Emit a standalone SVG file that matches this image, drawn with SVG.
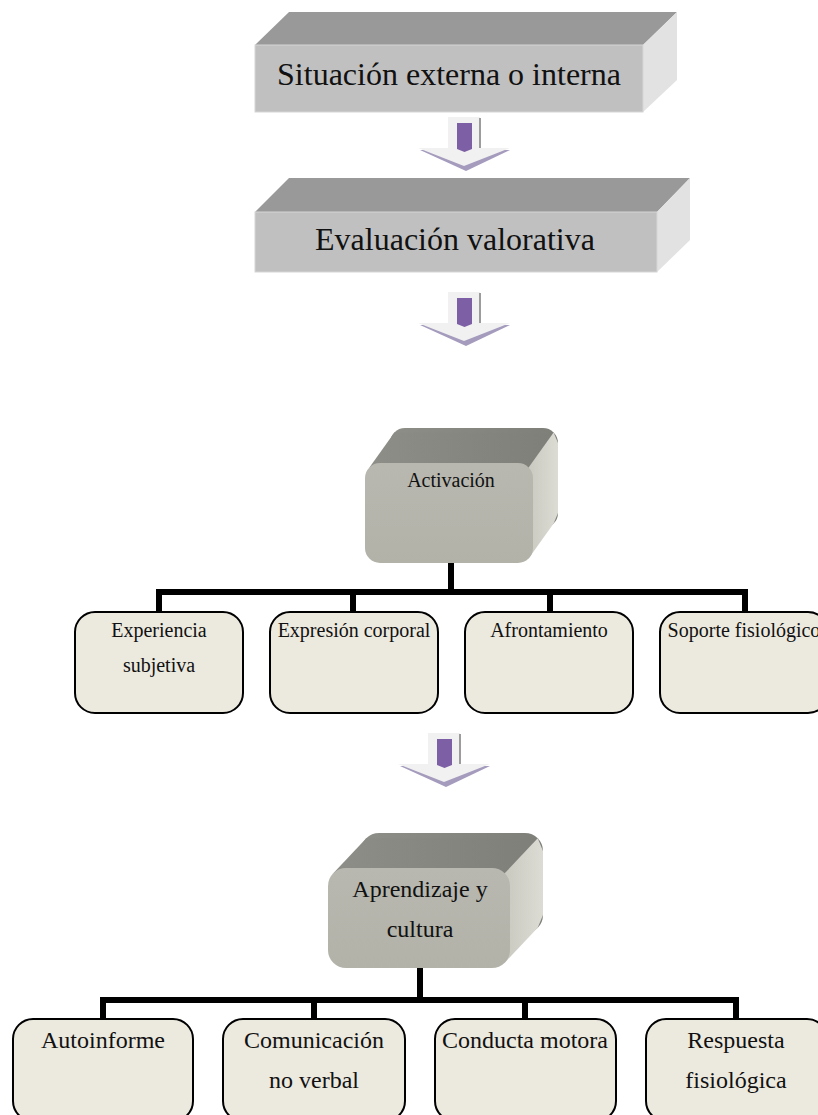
<svg xmlns="http://www.w3.org/2000/svg" width="818" height="1115" viewBox="0 0 818 1115">
  <defs>
    <style>
      text { font-family: "Liberation Serif", "Times New Roman", serif; fill: #111; text-anchor: middle; }
      .t32 { font-size: 32px; }
      .t24 { font-size: 24px; }
      .t20 { font-size: 20px; }
      .slab-top { fill: #999999; }
      .slab-front { fill: #c0c0c0; stroke: #d6d6d6; stroke-width: 1; }
      .slab-side { fill: #e2e2e2; }
      .card { fill: #ece9df; stroke: #000; stroke-width: 2; }
      .wire { fill: none; stroke: #000; stroke-width: 6; }
      .cube-top { fill: url(#cubeTop); }
      .cube-side { fill: url(#cubeSide); }
      .cube-front { fill: url(#cubeFront); }
    </style>
    <linearGradient id="cubeTop" x1="0" y1="0" x2="1" y2="0">
      <stop offset="0" stop-color="#8e8e88"/>
      <stop offset="1" stop-color="#7f7f79"/>
    </linearGradient>
    <linearGradient id="cubeSide" x1="0" y1="0" x2="1" y2="0">
      <stop offset="0" stop-color="#c4c4bb"/>
      <stop offset="1" stop-color="#dcdcd4"/>
    </linearGradient>
    <linearGradient id="cubeFront" x1="0" y1="0" x2="0" y2="1">
      <stop offset="0" stop-color="#b8b8b0"/>
      <stop offset="1" stop-color="#b2b2a9"/>
    </linearGradient>
    <!-- block arrow pointing down, origin at top centre of the shaft -->
    <g id="downArrow">
      <polygon points="-44,33 46,33 2,54" fill="#a59bbd"/>
      <polygon points="-16,0 16,0 16,31 46,31 0,49 -46,31 -16,31" fill="#f1f1f1"/>
      <line x1="16" y1="1" x2="16" y2="31" stroke="#9c9c9c" stroke-width="2"/>
      <polygon points="-7,6 8,6 8,32 0.5,35 -7,32" fill="#7d5fa5"/>
    </g>
  </defs>

  <!-- connectors -->
  <g id="connectors">
    <path class="wire" d="M451,563 V592 M156,592 H748 M159,592 V612 M353,592 V612 M550,592 V612 M745,592 V612"/>
    <path class="wire" d="M420,968 V1000 M100,1000 H739 M103,1000 V1019 M314,1000 V1019 M525,1000 V1019 M736,1000 V1019"/>
  </g>

  <!-- flow arrows -->
  <g id="arrows">
    <use href="#downArrow" transform="translate(464,117)"/>
    <use href="#downArrow" transform="translate(464,292)"/>
    <use href="#downArrow" transform="translate(444,733)"/>
  </g>

  <!-- flat slab blocks -->
  <g id="situacion">
    <polygon class="slab-top" points="255,45 289,12 677,12 643,45"/>
    <polygon class="slab-side" points="643,45 677,12 677,80 643,112"/>
    <rect class="slab-front" x="255" y="45" width="388" height="67"/>
    <text class="t32" x="449" y="85">Situación externa o interna</text>
  </g>

  <g id="evaluacion">
    <polygon class="slab-top" points="255,212 289,178 690,178 657,212"/>
    <polygon class="slab-side" points="657,212 690,178 690,240 657,272"/>
    <rect class="slab-front" x="255" y="212" width="402" height="60"/>
    <text class="t32" x="455" y="250">Evaluación valorativa</text>
  </g>

  <!-- rounded cube blocks -->
  <g id="activacion">
    <rect class="cube-top" x="390" y="428" width="168" height="100" rx="15"/>
    <polygon class="cube-top" points="369.4,467.4 394.4,432.4 553.6,432.4 528.6,467.4"/>
    <polygon class="cube-side" points="528.6,467.4 553.6,432.4 558,443 558,513 553.6,523.6 528.6,558.6 520,520"/>
    <rect class="cube-front" x="365" y="463" width="168" height="100" rx="15"/>
    <text class="t20" x="451" y="487">Activación</text>
  </g>

  <g id="aprendizaje">
    <rect class="cube-top" x="361" y="833" width="182" height="100" rx="18"/>
    <polygon class="cube-top" points="333.3,873.3 366.3,838.3 537.7,838.3 504.7,873.3"/>
    <polygon class="cube-side" points="504.7,873.3 537.7,838.3 543,851 543,915 537.7,927.7 504.7,962.7 495,925"/>
    <rect class="cube-front" x="328" y="868" width="182" height="100" rx="18"/>
    <text class="t24" x="420" y="897">Aprendizaje y</text>
    <text class="t24" x="420" y="937">cultura</text>
  </g>

  <!-- first row of components -->
  <g id="experiencia">
    <rect class="card" x="75" y="612" width="168" height="101" rx="20"/>
    <text class="t20" x="159" y="637">Experiencia</text>
    <text class="t20" x="159" y="672">subjetiva</text>
  </g>
  <g id="expresion">
    <rect class="card" x="270" y="612" width="168" height="101" rx="20"/>
    <text class="t20" x="354" y="637">Expresión corporal</text>
  </g>
  <g id="afrontamiento">
    <rect class="card" x="465" y="612" width="168" height="101" rx="20"/>
    <text class="t20" x="549" y="637">Afrontamiento</text>
  </g>
  <g id="soporte">
    <rect class="card" x="660" y="612" width="168" height="101" rx="20"/>
    <text class="t20" x="744" y="637">Soporte fisiológico</text>
  </g>

  <!-- second row of components -->
  <g id="autoinforme">
    <rect class="card" x="13" y="1019" width="180" height="102" rx="20"/>
    <text class="t24" x="103" y="1048">Autoinforme</text>
  </g>
  <g id="comunicacion">
    <rect class="card" x="223" y="1019" width="182" height="102" rx="20"/>
    <text class="t24" x="314" y="1048">Comunicación</text>
    <text class="t24" x="314" y="1088">no verbal</text>
  </g>
  <g id="conducta">
    <rect class="card" x="435" y="1019" width="181" height="102" rx="20"/>
    <text class="t24" x="525" y="1048">Conducta motora</text>
  </g>
  <g id="respuesta">
    <rect class="card" x="646" y="1019" width="181" height="102" rx="20"/>
    <text class="t24" x="736" y="1048">Respuesta</text>
    <text class="t24" x="736" y="1088">fisiológica</text>
  </g>
</svg>
